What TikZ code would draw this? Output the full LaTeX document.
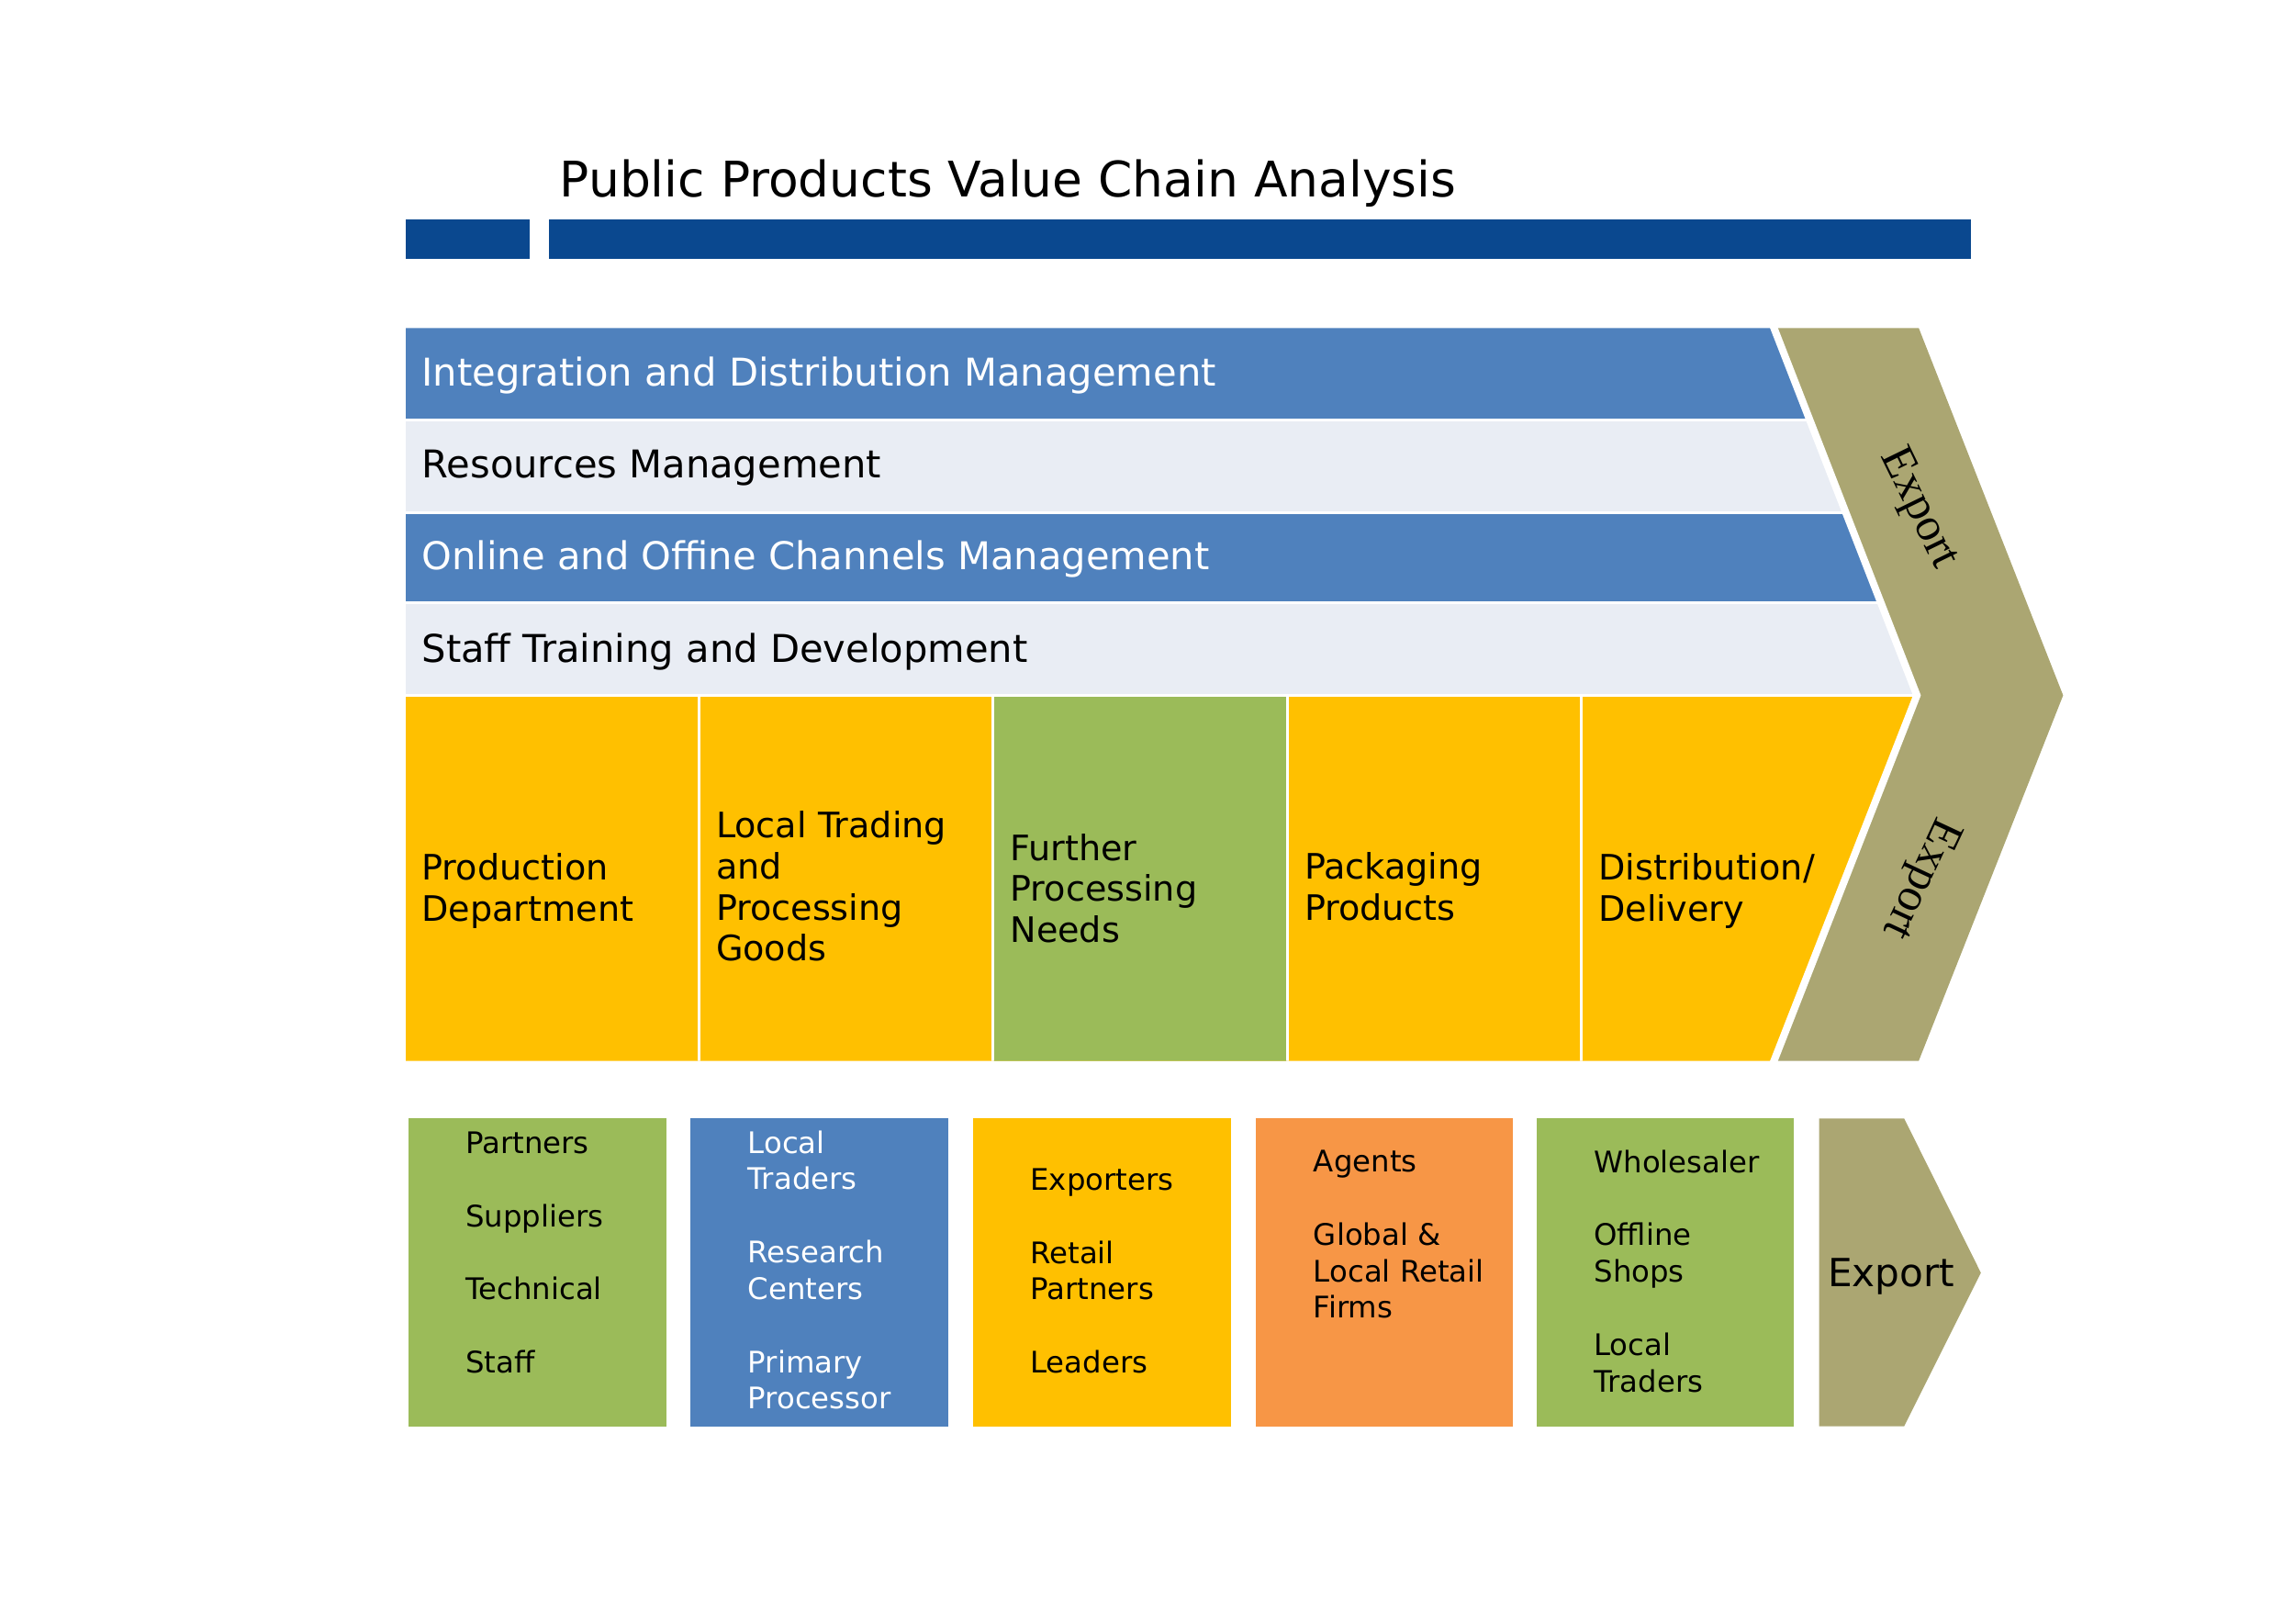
\documentclass[tikz,border=0pt]{standalone}
\usepackage{fontspec}
\setmainfont{DejaVu Sans}
\newfontfamily\serifexp{Liberation Serif}
\definecolor{barblue}{RGB}{10,72,143}
\definecolor{bandblue}{RGB}{79,129,189}
\definecolor{bandlight}{RGB}{233,237,244}
\definecolor{vyellow}{RGB}{255,192,0}
\definecolor{vgreen}{RGB}{155,187,89}
\definecolor{vorange}{RGB}{247,150,70}
\definecolor{volive}{RGB}{171,166,114}
\tikzset{
  bandtext/.style={anchor=west, inner sep=0pt, font=\fontsize{11.85}{14}\selectfont},
  rowtext/.style={anchor=west, inner sep=0pt, align=left, font=\fontsize{10.85}{12.7}\selectfont},
  boxtext/.style={anchor=west, inner sep=0pt, align=left, font=\fontsize{9.2}{11.33}\selectfont},
  sep/.style={white, line width=0.03cm},
  exptext/.style={inner sep=0pt, font=\serifexp\fontsize{14.5}{17}\selectfont}
}
\begin{document}
\begin{tikzpicture}[x=0.009953cm,y=-0.009953cm]
\useasboundingbox (0,0) rectangle (2511.8,1776.4);
% title bars
\fill[barblue] (444,240) rectangle (580,283);
\fill[barblue] (601,240) rectangle (2157,283);
\node[anchor=base west, inner sep=0pt, font=\fontsize{15.2}{18}\selectfont] (title) at (612,216) {Public Products Value Chain Analysis};
% bands and primary activities
\begin{scope}
\clip (444,359) -- (1940,359) -- (2098,761) -- (1940,1161) -- (444,1161) -- cycle;
\fill[bandblue] (444,359) rectangle (2200,460);
\fill[bandlight] (444,460) rectangle (2200,561);
\fill[bandblue] (444,561) rectangle (2200,660);
\fill[bandlight] (444,660) rectangle (2200,761);
\fill[vyellow] (444,761) rectangle (2200,1161);
\fill[vgreen] (1087,761) rectangle (1409,1161);
\draw[sep] (444,460) -- (2200,460);
\draw[sep] (444,561) -- (2200,561);
\draw[sep] (444,660) -- (2200,660);
\draw[sep] (444,761) -- (2200,761);
\draw[sep] (765,761) -- (765,1161);
\draw[sep] (1087,761) -- (1087,1161);
\draw[sep] (1409,761) -- (1409,1161);
\draw[sep] (1731,761) -- (1731,1161);
\end{scope}
% chevron
\fill[volive] (1940,359) -- (2100,359) -- (2258,761) -- (2100,1161) -- (1940,1161) -- (2098,761) -- cycle;
\draw[white, line width=0.08cm] (1940,355) -- (2098,761) -- (1940,1165);
\node[exptext, rotate=-64] (exp1) at (2099,557) {Export};
\node[exptext, rotate=-115] (exp2) at (2101,961) {Export};
% band texts
\node[bandtext, text=white] (b1) at (461,411) {Integration and Distribution Management};
\node[bandtext] (b2) at (461,512) {Resources Management};
\node[bandtext, text=white] (b3) at (461,612) {Online and Offine Channels Management};
\node[bandtext] (b4) at (461,713) {Staff Training and Development};
% primary activity texts
\node[rowtext] (p1) at (461,975) {Production\\Department};
\node[rowtext] (p2) at (783,970) {Local Trading\\and\\Processing\\Goods};
\node[rowtext] (p3) at (1105,972) {Further\\Processing\\Needs};
\node[rowtext] (p4) at (1427,970) {Packaging\\Products};
\node[rowtext] (p5) at (1749,975) {Distribution/\\Delivery};
% bottom boxes
\fill[vgreen] (447,1224) rectangle (729,1561);
\fill[bandblue] (756,1224) rectangle (1038,1561);
\fill[vyellow] (1065,1224) rectangle (1347,1561);
\fill[vorange] (1374,1224) rectangle (1656,1561);
\fill[vgreen] (1682,1224) rectangle (1963,1561);
\fill[volive] (1991,1224) -- (2084,1224) -- (2168,1393) -- (2084,1561) -- (1991,1561) -- cycle;
\node[boxtext] (q1) at (509,1371) {Partners\\[11.33pt]Suppliers\\[11.33pt]Technical\\[11.33pt]Staff};
\node[boxtext, text=white] (q2) at (818,1390) {Local\\Traders\\[11.33pt]Research\\Centers\\[11.33pt]Primary\\Processor};
\node[boxtext] (q3) at (1127,1391) {Exporters\\[11.33pt]Retail\\Partners\\[11.33pt]Leaders};
\node[boxtext] (q4) at (1437,1351) {Agents\\[11.33pt]Global \&\\Local Retail\\Firms};
\node[boxtext] (q5) at (1744,1391) {Wholesaler\\[11.33pt]Offline\\Shops\\[11.33pt]Local\\Traders};
\node[inner sep=0pt, font=\fontsize{12}{14}\selectfont] (q6) at (2070,1397) {Export};
\end{tikzpicture}
\end{document}
